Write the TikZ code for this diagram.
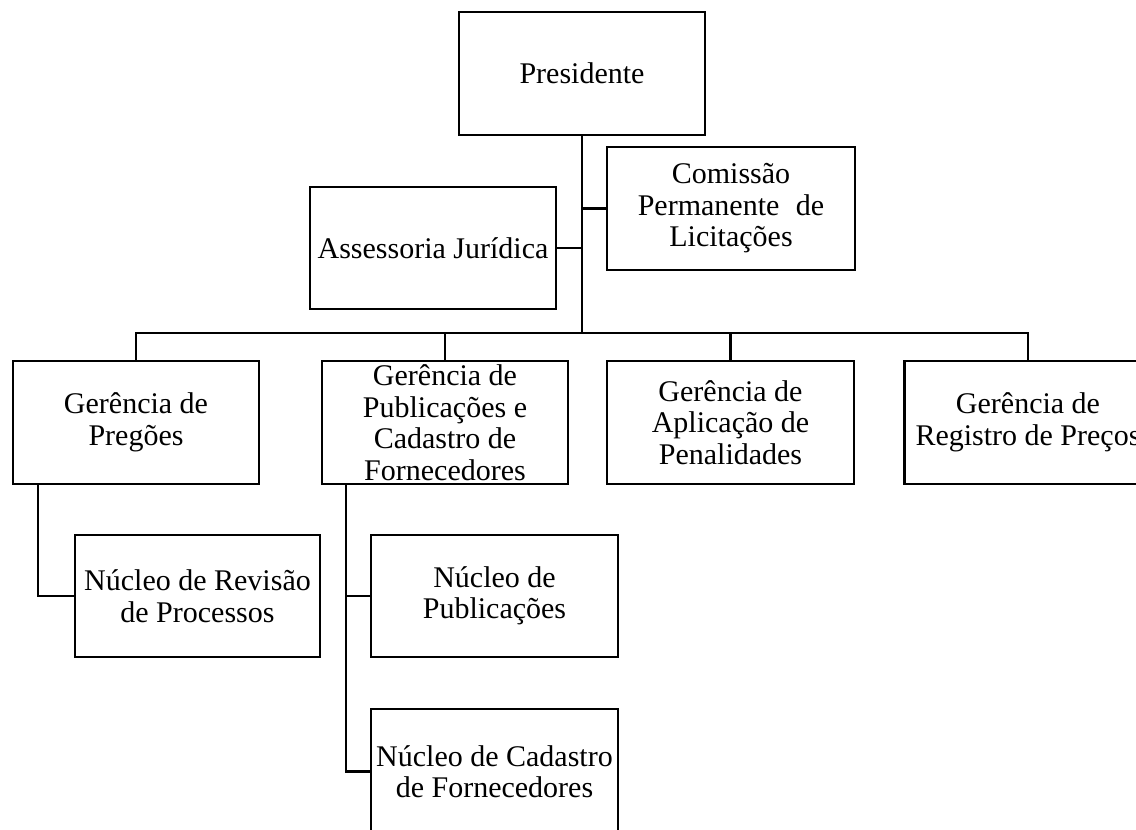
\documentclass[tikz,border=0pt]{standalone}
\usepackage{fontspec}
\setmainfont{Liberation Serif}
\begin{document}
\begin{tikzpicture}[x=1pt,y=-1pt,
  orgbox/.style={draw=black, line width=2.4pt, align=center, inner sep=0pt,
    minimum width=246pt, minimum height=123pt,
    font=\fontsize{30}{31.5}\selectfont},
  link/.style={draw=black, line width=2.4pt}]
\useasboundingbox (0,0) rectangle (1136,830);
\clip (0,0) rectangle (1136,830);
\fill[white] (0,0) rectangle (1136,830);

\node[orgbox] (pres) at (582,73.5) {Presidente};
\node[orgbox, minimum width=248pt] (com) at (731,208.5) {Comissão\\Permanente\hspace{0.55em}de\\Licitações};
\node[orgbox, minimum height=122pt] (ass) at (433,248) {Assessoria Jurídica};

\node[orgbox] (g1) at (136,422.5) {Gerência de\\Pregões};
\node[orgbox] (g2) at (445,422.5) {Gerência de\\Publicações e\\Cadastro de\\Fornecedores};
\node[orgbox, minimum width=247pt] (g3) at (730.5,422.5) {Gerência de\\Aplicação de\\Penalidades};
\node[orgbox, minimum width=247pt] (g4) at (1028,422.5) {Gerência de\\Registro de Preços};

\node[orgbox, minimum width=245pt, minimum height=122pt] (n1) at (197.5,596) {Núcleo de Revisão\\de Processos};
\node[orgbox, minimum width=247pt, minimum height=122pt] (n2) at (494.5,596) {Núcleo de\\Publicações};
\node[orgbox, minimum width=247pt, minimum height=125pt] (n3) at (494.5,771.5) {Núcleo de Cadastro\\de Fornecedores};

\coordinate (busC) at (582,333);
\coordinate (c1) at (38,0);
\coordinate (c2) at (346,0);

\draw[link] (pres.south) -- (busC);
\draw[link] (ass.east) -- (ass.east -| busC);
\draw[link] (com.west) -- (com.west -| busC);
\draw[link] (g1.north) |- (busC) -| (g4.north);
\draw[link] (g2.north) -- (g2.north |- busC);
\draw[link] (g3.north) -- (g3.north |- busC);
\draw[link] (g1.south -| c1) |- (n1.west);
\draw[link] (g2.south -| c2) |- (n3.west);
\draw[link] (n2.west) -- (n2.west -| c2);
\end{tikzpicture}
\end{document}
